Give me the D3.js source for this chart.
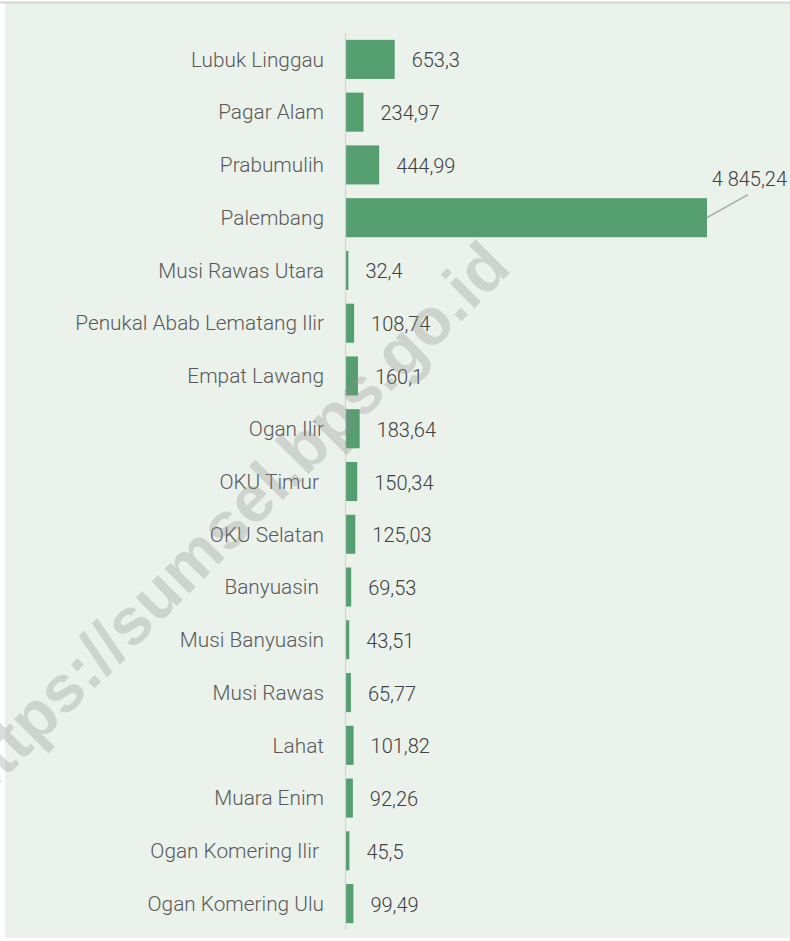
<!DOCTYPE html>
<html>
<head>
<meta charset="utf-8">
<script src="https://cdn.jsdelivr.net/npm/d3@7"></script>
<style>
  body { margin: 0; background: #ffffff; }
  text { white-space: pre; }
</style>
</head>
<body>
<div id="chart"></div>
<script>
// data, top to bottom
var regions = ["Lubuk Linggau", "Pagar Alam", "Prabumulih", "Palembang", "Musi Rawas Utara",
  "Penukal Abab Lematang Ilir", "Empat Lawang", "Ogan Ilir", "OKU Timur ", "OKU Selatan",
  "Banyuasin ", "Musi Banyuasin", "Musi Rawas", "Lahat", "Muara Enim",
  "Ogan Komering Ilir ", "Ogan Komering Ulu"];
var values = [653.3, 234.97, 444.99, 4845.24, 32.4, 108.74, 160.1, 183.64, 150.34, 125.03,
  69.53, 43.51, 65.77, 101.82, 92.26, 45.5, 99.49];
var valueLabels = ["653,3", "234,97", "444,99", "4 845,24", "32,4", "108,74", "160,1", "183,64",
  "150,34", "125,03", "69,53", "43,51", "65,77", "101,82", "92,26", "45,5", "99,49"];

var data = regions.map(function(r, i) {
  return { region: r, value: values[i], label: valueLabels[i] };
});

var W = 790, H = 941;
var svg = d3.select("#chart").append("svg")
  .attr("width", W).attr("height", H);

// panel
svg.append("rect").attr("x", 5).attr("y", 3).attr("width", W - 5).attr("height", 935)
  .attr("fill", "#EBF1EB");
svg.append("line").attr("x1", 0).attr("x2", W).attr("y1", 2.5).attr("y2", 2.5)
  .attr("stroke", "#d6d6d6").attr("stroke-width", 2);

var x = d3.scaleLinear()
  .domain([0, 4845.24])
  .range([346, 707]);

var y = d3.scaleBand()
  .domain(regions)
  .range([33, 930])
  .paddingInner(0.26)
  .paddingOuter(0.13);

// bars
svg.selectAll(".bar")
  .data(data)
  .enter()
  .append("rect")
  .attr("class", "bar")
  .attr("x", x(0))
  .attr("y", d => y(d.region))
  .attr("width", d => x(d.value) - x(0))
  .attr("height", y.bandwidth())
  .attr("fill", "#559E6F");

// axis line
svg.append("line")
  .attr("x1", 345.5).attr("x2", 345.5)
  .attr("y1", 33).attr("y2", 930)
  .attr("stroke", "#d3d3d3").attr("stroke-width", 1.2);

// category labels
svg.selectAll(".cat")
  .data(data)
  .enter()
  .append("text")
  .attr("class", "cat")
  .attr("x", 324)
  .attr("y", d => y(d.region) + y.bandwidth() / 2)
  .attr("dy", "0.35em")
  .attr("text-anchor", "end")
  .attr("font-family", "Roboto, 'Open Sans', sans-serif")
  .attr("font-weight", 300)
  .attr("font-size", "20.8px")
  .attr("fill", "#595959")
  .text(d => d.region);

// value labels (Palembang gets a leader line)
svg.selectAll(".val")
  .data(data.filter(d => d.region != "Palembang"))
  .enter()
  .append("text")
  .attr("class", "val")
  .attr("x", d => x(d.value) + 17)
  .attr("y", d => y(d.region) + y.bandwidth() / 2 + 1)
  .attr("dy", "0.35em")
  .attr("font-family", "Roboto, 'Open Sans', sans-serif")
  .attr("font-weight", 300)
  .attr("font-size", "20px")
  .attr("fill", "#404040")
  .text(d => d.label);

var pal = data[3];
var py = y(pal.region) + y.bandwidth() / 2;
svg.append("line")
  .attr("x1", x(pal.value)).attr("y1", py)
  .attr("x2", x(pal.value) + 41).attr("y2", py - 23)
  .attr("stroke", "#a6a6a6").attr("stroke-width", 1.3);
svg.append("text")
  .attr("x", 787)
  .attr("y", py - 32)
  .attr("text-anchor", "end")
  .attr("font-family", "Roboto, 'Open Sans', sans-serif")
  .attr("font-weight", 300)
  .attr("font-size", "20px")
  .attr("fill", "#404040")
  .text(pal.label);

// watermark
svg.append("text")
  .attr("transform", "translate(228,522) rotate(-45)")
  .attr("text-anchor", "middle")
  .attr("dy", "0.35em")
  .attr("font-family", "'Liberation Sans', Arial, sans-serif")
  .attr("font-weight", "bold")
  .attr("font-size", "66px")
  .attr("fill", "#8a8f8a")
  .attr("fill-opacity", 0.3)
  .text("https://sumsel.bps.go.id");
</script>
</body>
</html>
